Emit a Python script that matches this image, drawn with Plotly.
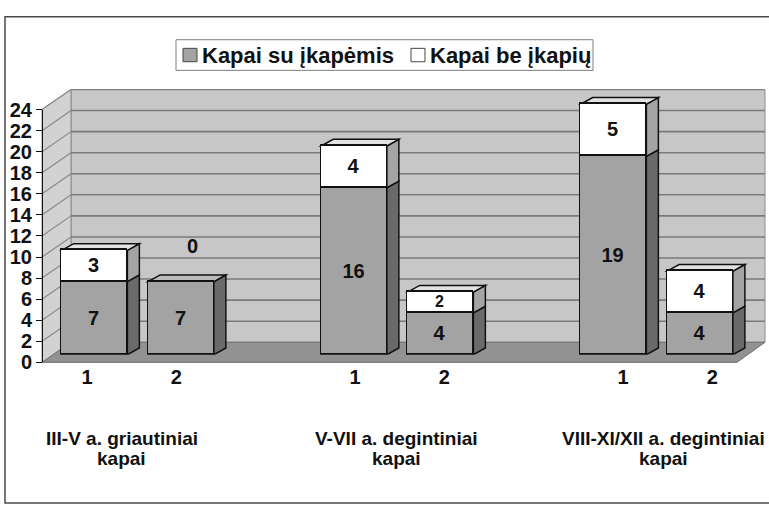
import plotly.graph_objects as go

# ---------------- data ----------------
group_labels = ["III-V a. griautiniai<br>kapai",
                "V-VII a. degintiniai<br>kapai",
                "VIII-XI/XII a. degintiniai<br>kapai"]
sub_labels = ["1", "2"]
series_names = ["Kapai su įkapėmis", "Kapai be įkapių"]
with_goods = [7, 7, 16, 4, 19, 4]
without_goods = [3, 0, 4, 2, 5, 4]
y_ticks = [0, 2, 4, 6, 8, 10, 12, 14, 16, 18, 20, 22, 24]

# ---------------- style / geometry ----------------
W, H = 769, 516
def px(x): return x / W
def py(y): return 1 - y / H

FONT = "Liberation Sans, Arial, sans-serif"
INK = "#111111"
GRAY = "#a3a3a3"
WHITE = "#ffffff"
SIDE = {"g": "#6a6a6a", "w": "#a4a4a4"}
TOP = {"g": "#bcbcbc", "w": "#e2e2e2"}
WALL = "#c7c7c7"
LWALL = "#d2d2d2"
FLOOR = "#929292"
GRID = "#7a7a7a"

slots = [g * 3 + i for g in range(len(group_labels)) for i in range(len(sub_labels))]
tick_text = [sub_labels[i] for g in range(len(group_labels)) for i in range(len(sub_labels))]
n_slots = max(slots) + 1

FRONT_X0, FRONT_X1 = 42, 737
DEPTH = (29, -21)
Y0_FRONT, PPU = 367, 11.0
BAR_X0, SLOT_PX = 51.25, 86.5
BAR_Y0, BAR_PPU = 359, 10.9
BAR_W = 0.76
BAR_DEPTH = (12, -7)
LAB_X0, LAB_X1 = 42.4, 757
GROUP_XSHIFT = [-10, -3, -4]
BAR_YMAX = 27
BAR_XMAX = n_slots - 0.25

ymax = y_ticks[-1]
back_y0 = Y0_FRONT + DEPTH[1]
back_x0, back_x1 = FRONT_X0 + DEPTH[0], FRONT_X1 + DEPTH[0]

fig = go.Figure()

def seg_font_sizes(vals):
    return [20 if v * BAR_PPU >= 26 else 16 for v in vals]

for name, vals, col in [(series_names[0], with_goods, GRAY), (series_names[1], without_goods, WHITE)]:
    fig.add_trace(go.Bar(
        x=slots, y=vals, name=name, xaxis="x3", yaxis="y3", width=BAR_W,
        marker=dict(color=col, line=dict(color=INK, width=1.5)),
        texttemplate="%{y}",
        textposition=["inside" if v > 0 else "none" for v in vals],
        insidetextanchor="middle", textangle=0, constraintext="none",
        textfont=dict(family=FONT, size=seg_font_sizes(vals), color=INK, weight="bold"),
        hoverinfo="skip", showlegend=False,
    ))

shapes = []
# back wall
shapes.append(dict(type="rect", xref="paper", yref="paper",
                   x0=px(back_x0), x1=px(back_x1 - 1), y0=py(back_y0), y1=py(back_y0 - ymax * PPU),
                   fillcolor=WALL, line=dict(color="#8c8c8c", width=1), layer="below"))
# left wall
lw = [(FRONT_X0, Y0_FRONT), (back_x0, back_y0), (back_x0, back_y0 - ymax * PPU), (FRONT_X0, Y0_FRONT - ymax * PPU)]
shapes.append(dict(type="path", xref="paper", yref="paper",
                   path="M " + " L ".join(f"{px(a)},{py(b)}" for a, b in lw) + " Z",
                   fillcolor=LWALL, line=dict(color="#8c8c8c", width=1), layer="below"))
# floor
fl = [(FRONT_X0, Y0_FRONT), (FRONT_X1, Y0_FRONT), (back_x1 - 1, back_y0), (back_x0, back_y0)]
shapes.append(dict(type="path", xref="paper", yref="paper",
                   path="M " + " L ".join(f"{px(a)},{py(b)}" for a, b in fl) + " Z",
                   fillcolor=FLOOR, line=dict(color="#6e6e6e", width=1), layer="below"))
# gridlines on back wall and left wall
dy_units = -DEPTH[1] / PPU
for v in y_ticks[1:]:
    shapes.append(dict(type="line", xref="paper", yref="y2", x0=px(back_x0), x1=px(back_x1 - 1),
                       y0=v, y1=v, line=dict(color=GRID, width=1.6), layer="below"))
    shapes.append(dict(type="line", xref="paper", yref="y2", x0=px(FRONT_X0), x1=px(back_x0),
                       y0=v - dy_units, y1=v, line=dict(color="#8a8a8a", width=1.2), layer="below"))

# 3D side and top faces of bars (through bar axes)
ddx = BAR_DEPTH[0] / SLOT_PX
ddy = -BAR_DEPTH[1] / BAR_PPU
edge = dict(color=INK, width=1.5)
for s, a, b in zip(slots, with_goods, without_goods):
    xl, xr = s - BAR_W / 2, s + BAR_W / 2
    segs = [(0, a, "g")]
    if b > 0:
        segs.append((a, a + b, "w"))
    for y0, y1, k in segs:
        shapes.append(dict(type="path", xref="x3", yref="y3", layer="below",
                           path=f"M {xr},{y0} L {xr+ddx},{y0+ddy} L {xr+ddx},{y1+ddy} L {xr},{y1} Z",
                           fillcolor=SIDE[k], line=edge))
    ytop, k = segs[-1][1], segs[-1][2]
    shapes.append(dict(type="path", xref="x3", yref="y3", layer="below",
                       path=f"M {xl},{ytop} L {xl+ddx},{ytop+ddy} L {xr+ddx},{ytop+ddy} L {xr},{ytop} Z",
                       fillcolor=TOP[k], line=edge))

# legend (box, swatches)
LEG = dict(x0=176, x1=593, y0=30, y1=62)
shapes.append(dict(type="rect", xref="paper", yref="paper", x0=px(LEG["x0"]), x1=px(LEG["x1"]),
                   y0=py(LEG["y1"]), y1=py(LEG["y0"]), fillcolor="white",
                   line=dict(color="#7f7f7f", width=1), layer="above"))
leg_items = [(183, GRAY, 200), (411, WHITE, 428)]
for (sx, col, tx) in leg_items:
    shapes.append(dict(type="rect", xref="paper", yref="paper", x0=px(sx), x1=px(sx + 14),
                       y0=py(53), y1=py(39), fillcolor=col, line=dict(color="#444444", width=1),
                       layer="above"))

# outer frame
shapes.append(dict(type="rect", xref="paper", yref="paper", x0=px(5), x1=px(775), y0=py(514), y1=py(6),
                   line=dict(color="#4a4a4a", width=1.5), fillcolor="rgba(0,0,0,0)", layer="above"))

annotations = []
for (sx, col, tx), name in zip(leg_items, series_names):
    annotations.append(dict(x=px(tx), y=py(46), xref="paper", yref="paper", text=name,
                            showarrow=False, xanchor="left", yanchor="middle",
                            font=dict(family=FONT, size=22, color=INK, weight="bold")))
# labels for zero-valued segments
for s, a, b in zip(slots, with_goods, without_goods):
    if b == 0:
        annotations.append(dict(x=s, y=a, xref="x3", yref="y3", text=str(b), showarrow=False,
                                xshift=11, yshift=36,
                                font=dict(family=FONT, size=20, color=INK, weight="bold")))
# group labels
for g, lab in enumerate(group_labels):
    cx = (slots[2 * g] + slots[2 * g + 1]) / 2
    for k, line in enumerate(lab.split("<br>")):
        annotations.append(dict(x=cx, y=py(447 + 20 * k), xref="x", yref="paper", text=line,
                                showarrow=False, xshift=GROUP_XSHIFT[g], yanchor="middle",
                                font=dict(family=FONT, size=19, color=INK, weight="bold")))

axis_font = dict(family=FONT, size=20, color=INK, weight="bold")
bar_x1 = BAR_X0 + (BAR_XMAX + 0.5) * SLOT_PX
fig.update_layout(
    width=W, height=H, margin=dict(l=0, r=0, t=0, b=0),
    paper_bgcolor="white", plot_bgcolor="rgba(0,0,0,0)",
    barmode="stack", bargap=0, showlegend=False,
    shapes=shapes, annotations=annotations,
    xaxis=dict(domain=[px(LAB_X0), px(LAB_X1)], range=[-0.5, n_slots - 0.5], anchor="free",
               position=py(368), tickmode="array", tickvals=slots, ticktext=tick_text,
               ticks="", showline=False, showgrid=False, zeroline=False, tickfont=axis_font),
    yaxis=dict(domain=[py(Y0_FRONT), py(Y0_FRONT - ymax * PPU)], range=[0, ymax], anchor="free",
               position=px(FRONT_X0), tickmode="array", tickvals=y_ticks, ticks="outside",
               ticklen=6, tickcolor=INK, tickwidth=1, showline=True, linecolor=INK,
               linewidth=1, showgrid=False, zeroline=False, tickfont=axis_font),
    yaxis2=dict(domain=[py(back_y0), py(back_y0 - ymax * PPU)], range=[0, ymax], anchor="free",
                position=0, visible=False),
    xaxis3=dict(domain=[px(BAR_X0), px(bar_x1)], range=[-0.5, BAR_XMAX], anchor="y3",
                visible=False),
    yaxis3=dict(domain=[py(BAR_Y0), py(BAR_Y0 - BAR_YMAX * BAR_PPU)], range=[0, BAR_YMAX], anchor="x3",
                visible=False),
)

fig.write_html("out.html", config={"displayModeBar": False},
               post_script="document.body.style.margin='0px';document.body.style.overflow='hidden';")
